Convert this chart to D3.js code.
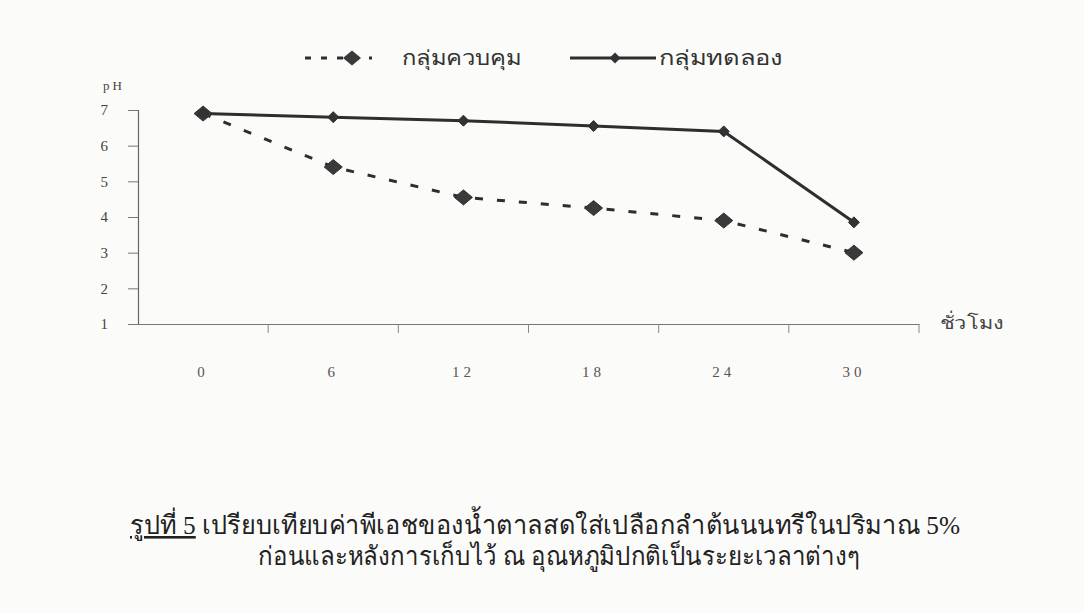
<!DOCTYPE html>
<html>
<head>
<meta charset="utf-8">
<script src="https://cdn.jsdelivr.net/npm/d3@7/dist/d3.min.js"></script>
<style>
  html, body { margin: 0; padding: 0; background: #fbfbfa; }
  svg { display: block; }
</style>
</head>
<body>
<svg id="chart" width="1084" height="613"></svg>
<script>
// pH of fresh palm sap over storage time
const hours = ["0", "6", "12", "18", "24", "30"];
const controlPH = [6.9, 5.4, 4.55, 4.25, 3.9, 3.0];      // กลุ่มควบคุม
const treatedPH = [6.9, 6.8, 6.7, 6.55, 6.4, 3.85];      // กลุ่มทดลอง
const yTicks = [1, 2, 3, 4, 5, 6, 7];
const seriesNames = ["กลุ่มควบคุม", "กลุ่มทดลอง"];
const captionLines = [
  "เปรียบเทียบค่าพีเอชของน้ำตาลสดใส่เปลือกลำต้นนนทรีในปริมาณ 5%",
  "ก่อนและหลังการเก็บไว้ ณ อุณหภูมิปกติเป็นระยะเวลาต่างๆ"
];

const ink = "#2e2e2e";
const serif = "'Liberation Serif', 'DejaVu Serif', serif";
const svg = d3.select("#chart");

const x = d3.scaleBand().domain(hours).range([138, 919]).padding(0);
const y = d3.scaleLinear().domain([1, 7]).range([324, 110]);
const cx = h => x(h) + x.bandwidth() / 2;

// y axis
const yAxis = svg.append("g")
  .attr("transform", "translate(138,0)")
  .call(d3.axisLeft(y).tickValues(yTicks).tickSize(10).tickPadding(20).tickFormat(d3.format("d")));
yAxis.select(".domain").attr("stroke", "#666").attr("stroke-width", 1.2);
yAxis.selectAll(".tick line").attr("stroke", "#777");
yAxis.selectAll("text").attr("font-family", serif).attr("font-size", 15).attr("fill", "#444");

svg.append("text").attr("x", 103).attr("y", 90)
  .attr("font-family", serif).attr("font-size", 13).attr("fill", "#444")
  .attr("letter-spacing", 3).text("pH");

// x axis: labels centred in each category, ticks between categories
const xAxis = svg.append("g")
  .attr("transform", "translate(0,324)")
  .call(d3.axisBottom(x).tickSize(0).tickPadding(42).tickSizeOuter(0));
xAxis.select(".domain").attr("stroke", "#777").attr("stroke-width", 1.2);
xAxis.selectAll("text").attr("font-family", serif).attr("font-size", 15)
  .attr("fill", "#555").attr("letter-spacing", 4);

svg.append("g").selectAll("line")
  .data(hours)
  .join("line")
  .attr("x1", h => x(h) + x.bandwidth()).attr("x2", h => x(h) + x.bandwidth())
  .attr("y1", 324).attr("y2", 333)
  .attr("stroke", "#888").attr("stroke-width", 1);

svg.append("text").attr("x", 940).attr("y", 329)
  .attr("font-size", 18).attr("fill", "#444")
  .attr("textLength", 64).attr("lengthAdjust", "spacingAndGlyphs").text("ชั่วโมง");

// series
const line = d3.line().x((d, i) => cx(hours[i])).y(d => y(d));

svg.append("path").datum(controlPH)
  .attr("d", line).attr("fill", "none").attr("stroke", ink)
  .attr("stroke-width", 3).attr("stroke-dasharray", "8,14");
svg.append("path").datum(treatedPH)
  .attr("d", line).attr("fill", "none").attr("stroke", ink)
  .attr("stroke-width", 3);

function diamondPath(px, py, rx, ry) {
  return `M${px},${py - ry}L${px + rx},${py}L${px},${py + ry}L${px - rx},${py}Z`;
}

svg.append("g").selectAll("path")
  .data(controlPH)
  .join("path")
  .attr("d", (d, i) => diamondPath(cx(hours[i]), y(d), 9, 7.5))
  .attr("fill", "#3a3a3a").attr("stroke", ink).attr("stroke-width", 1);
svg.append("g").selectAll("path")
  .data(treatedPH)
  .join("path")
  .attr("d", (d, i) => diamondPath(cx(hours[i]), y(d), 5.5, 5.5))
  .attr("fill", "#333").attr("stroke", ink).attr("stroke-width", 1);

// legend
const lg = svg.append("g");
lg.append("line").attr("x1", 305).attr("x2", 372).attr("y1", 58).attr("y2", 58)
  .attr("stroke", ink).attr("stroke-width", 3).attr("stroke-dasharray", "6,10");
lg.append("path").attr("d", diamondPath(352, 58, 9, 7.5)).attr("fill", "#3a3a3a");
lg.append("text").attr("x", 402).attr("y", 65).attr("font-size", 20).attr("fill", "#333")
  .attr("textLength", 119).attr("lengthAdjust", "spacingAndGlyphs").text(seriesNames[0]);
lg.append("line").attr("x1", 570).attr("x2", 656).attr("y1", 58).attr("y2", 58)
  .attr("stroke", ink).attr("stroke-width", 3);
lg.append("path").attr("d", diamondPath(615, 58, 5.5, 5.5)).attr("fill", "#333");
lg.append("text").attr("x", 659).attr("y", 65).attr("font-size", 20).attr("fill", "#333")
  .attr("textLength", 124).attr("lengthAdjust", "spacingAndGlyphs").text(seriesNames[1]);

// caption
const cap = svg.append("g").attr("fill", "#222").attr("font-size", 26);
const t1 = cap.append("text").attr("x", 130).attr("y", 534)
  .attr("textLength", 830).attr("lengthAdjust", "spacingAndGlyphs");
t1.append("tspan").attr("text-decoration", "underline").text("รูปที่ 5");
t1.append("tspan").text(" " + captionLines[0]);
cap.append("text").attr("x", 258).attr("y", 565)
  .attr("textLength", 602).attr("lengthAdjust", "spacingAndGlyphs").text(captionLines[1]);
</script>
</body>
</html>
